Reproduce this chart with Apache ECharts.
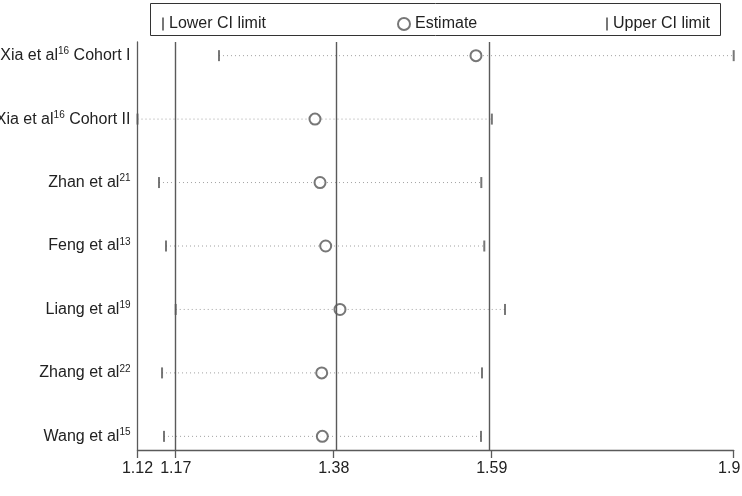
<!DOCTYPE html>
<html>
<head>
<meta charset="utf-8">
<script src="https://cdn.jsdelivr.net/npm/echarts@6/dist/echarts.min.js"></script>
<style>
  html, body { margin: 0; padding: 0; background: #fff; }
  #main { width: 742px; height: 496px; }
</style>
</head>
<body>
<div id="main"></div>
<script>
// study labels: name, superscript reference, suffix
var studyNames = ['Xia et al', 'Xia et al', 'Zhan et al', 'Feng et al', 'Liang et al', 'Zhang et al', 'Wang et al'];
var studyRefs = ['16', '16', '21', '13', '19', '22', '15'];
var studySuffix = [' Cohort I', ' Cohort II', '', '', '', '', ''];

// estimates with one study omitted
var lowerCI = [1.2266, 1.12, 1.1481, 1.1573, 1.17, 1.1521, 1.1547];
var estimate = [1.5628, 1.3522, 1.3588, 1.3662, 1.3849, 1.361, 1.3618];
var upperCI = [1.9, 1.5836, 1.5698, 1.5737, 1.6008, 1.5707, 1.5694];

// x axis ticks and the combined-estimate reference lines
var tickValues = [1.12, 1.17, 1.3767, 1.5834, 1.9];
var tickLabels = ['1.12', '1.17', '1.38', '1.59', '1.9'];
var refLines = [1.17, 1.3767, 1.5834];

var chart = echarts.init(document.getElementById('main'));

var rows = studyNames.map(function (n, i) { return i; });
var ciLine = [];
for (var i = 0; i < rows.length; i++) {
  ciLine.push([lowerCI[i], i]);
  ciLine.push([upperCI[i], i]);
  ciLine.push('-');
}

var FONT = 'Liberation Sans, Arial, sans-serif';
var GREY = '#5a5a5a';

var option = {
  animation: false,
  backgroundColor: '#fff',
  textStyle: { fontFamily: FONT },
  grid: { left: 137.5, right: 8.3, top: 42, bottom: 46, outerBoundsMode: 'none', containLabel: false },
  graphic: [{
    type: 'rect',
    shape: { x: 150.5, y: 3.5, width: 570, height: 32 },
    style: { fill: 'none', stroke: '#333', lineWidth: 1 },
    silent: true
  }],
  legend: [
    {
      data: ['Lower CI limit'], left: 157, top: 11, icon: 'rect',
      itemWidth: 2, itemHeight: 13,
      textStyle: { fontSize: 16, color: '#222', fontFamily: FONT }
    },
    {
      data: ['Estimate'], left: 392, top: 11, icon: 'emptyCircle',
      itemWidth: 12, itemHeight: 12,
      itemStyle: { borderWidth: 1.1 },
      textStyle: { fontSize: 16, color: '#222', fontFamily: FONT }
    },
    {
      data: ['Upper CI limit'], left: 601, top: 11, icon: 'rect',
      itemWidth: 2, itemHeight: 13,
      textStyle: { fontSize: 16, color: '#222', fontFamily: FONT }
    }
  ],
  xAxis: {
    type: 'value',
    min: 1.12,
    max: 1.9,
    splitLine: { show: false },
    axisLine: { show: true, onZero: false, lineStyle: { color: GREY, width: 1.3 } },
    axisTick: { show: true, customValues: tickValues, length: 8, lineStyle: { color: GREY, width: 1.3 } },
    axisLabel: {
      customValues: tickValues,
      margin: 11,
      fontSize: 16,
      color: '#222',
      fontFamily: FONT,
      formatter: function (v) {
        var k = tickValues.indexOf(v);
        if (k < 0) return '';
        // keep the last label inside the canvas
        return k === tickValues.length - 1 ? '{last|' + tickLabels[k] + '}' : tickLabels[k];
      },
      rich: {
        last: { fontSize: 16, color: '#222', fontFamily: FONT, padding: [0, 9, 0, 0] }
      }
    }
  },
  yAxis: {
    type: 'value',
    inverse: true,
    min: -0.215,
    max: 6.215,
    splitLine: { show: false },
    axisLine: { show: true, onZero: false, lineStyle: { color: GREY, width: 1.3 } },
    axisTick: { show: false },
    axisLabel: {
      customValues: rows,
      margin: 7,
      fontSize: 16,
      lineHeight: 18,
      color: '#222',
      fontFamily: FONT,
      formatter: function (v) {
        return studyNames[v] + '{sup|' + studyRefs[v] + '}' + studySuffix[v];
      },
      rich: {
        sup: { fontSize: 10, lineHeight: 10, verticalAlign: 'top', padding: [0, 0, 3, 0], color: '#222', fontFamily: FONT }
      }
    }
  },
  series: [
    {
      name: 'CI',
      type: 'line',
      data: ciLine,
      symbol: 'none',
      connectNulls: false,
      silent: true,
      lineStyle: { color: '#a0a0a0', width: 1, type: [1, 3] },
      markLine: {
        silent: true,
        symbol: 'none',
        label: { show: false },
        lineStyle: { color: GREY, width: 1.4, type: 'solid' },
        data: refLines.map(function (v) { return { xAxis: v }; })
      },
      z: 1
    },
    {
      name: 'Lower CI limit',
      type: 'scatter',
      data: lowerCI.map(function (v, i) { return [v, i]; }),
      symbol: 'rect',
      symbolSize: [2, 11],
      itemStyle: { color: '#555' },
      z: 3
    },
    {
      name: 'Upper CI limit',
      type: 'scatter',
      data: upperCI.map(function (v, i) { return [v, i]; }),
      symbol: 'rect',
      symbolSize: [2, 11],
      itemStyle: { color: '#555' },
      z: 3
    },
    {
      name: 'Estimate',
      type: 'scatter',
      data: estimate.map(function (v, i) { return [v, i]; }),
      symbol: 'emptyCircle',
      symbolSize: 11,
      itemStyle: { color: '#555', borderColor: '#555', borderWidth: 1.1 },
      z: 4
    }
  ]
};

chart.setOption(option);
</script>
</body>
</html>
